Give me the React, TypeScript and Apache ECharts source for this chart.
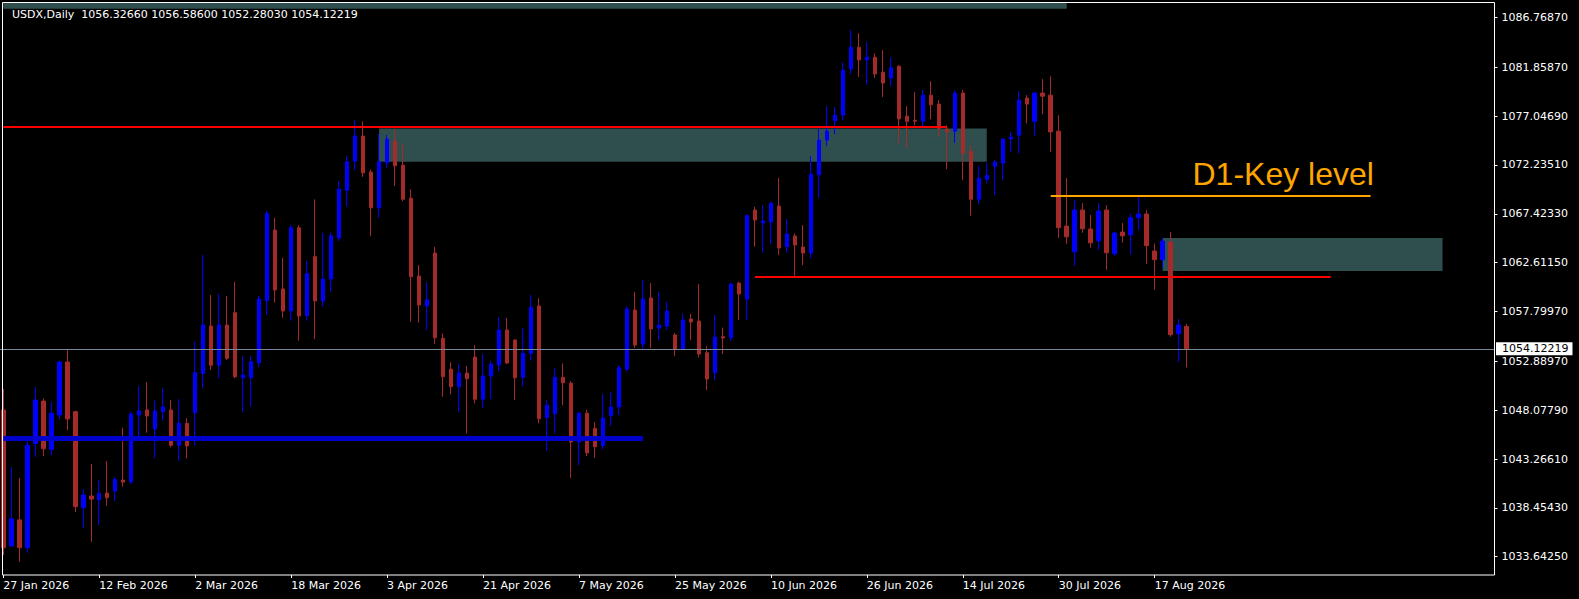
import React, { useEffect, useRef } from "react";
import * as echarts from "echarts";

// ---- data ----
const START_DATE = "2026-01-27";
const TOTAL_SLOTS = 187; // visible bar slots incl. empty right shift
const LAST_BAR_INDEX = 148;
const LABEL_EVERY = 12;
const MONTHS = ["Jan", "Feb", "Mar", "Apr", "May", "Jun", "Jul", "Aug", "Sep", "Oct", "Nov", "Dec"];

// [open, close, low, high]
const candles: number[][] = [
  [1048.10, 1034.53, 1033.81, 1050.16],
  [1034.69, 1037.37, 1034.63, 1042.50],
  [1037.27, 1034.53, 1033.14, 1041.41],
  [1034.53, 1044.63, 1034.03, 1045.02],
  [1044.79, 1049.07, 1043.47, 1050.36],
  [1048.97, 1044.27, 1043.54, 1049.23],
  [1044.21, 1047.77, 1043.64, 1048.90],
  [1047.60, 1052.82, 1047.18, 1052.95],
  [1052.82, 1047.21, 1046.12, 1054.10],
  [1047.93, 1038.57, 1038.04, 1048.03],
  [1038.47, 1039.72, 1036.48, 1040.32],
  [1039.62, 1039.32, 1035.12, 1042.77],
  [1039.26, 1039.89, 1036.75, 1041.19],
  [1039.92, 1039.45, 1038.67, 1043.07],
  [1040.12, 1041.26, 1039.12, 1041.52],
  [1041.19, 1040.99, 1040.53, 1046.35],
  [1041.02, 1047.70, 1040.79, 1047.93],
  [1047.60, 1048.00, 1045.52, 1050.46],
  [1048.10, 1047.50, 1045.85, 1050.85],
  [1046.22, 1048.00, 1043.37, 1049.02],
  [1047.93, 1048.40, 1047.04, 1050.23],
  [1048.10, 1044.63, 1044.41, 1049.07],
  [1044.63, 1046.78, 1043.09, 1049.16],
  [1046.78, 1044.56, 1043.32, 1047.28],
  [1047.83, 1051.77, 1044.63, 1054.83],
  [1051.70, 1056.47, 1050.22, 1063.36],
  [1056.37, 1052.51, 1052.03, 1059.42],
  [1052.51, 1056.47, 1051.21, 1059.52],
  [1056.47, 1053.18, 1053.01, 1059.32],
  [1057.68, 1051.37, 1051.21, 1060.73],
  [1051.27, 1051.54, 1047.90, 1053.40],
  [1051.27, 1052.85, 1048.42, 1053.40],
  [1052.74, 1059.03, 1052.35, 1059.32],
  [1058.87, 1067.46, 1057.46, 1067.72],
  [1065.82, 1059.92, 1058.67, 1067.03],
  [1060.02, 1057.85, 1057.19, 1063.10],
  [1057.85, 1066.04, 1056.89, 1066.31],
  [1066.04, 1057.35, 1054.91, 1066.31],
  [1057.39, 1061.52, 1056.89, 1062.80],
  [1063.20, 1058.84, 1055.08, 1068.84],
  [1058.84, 1061.00, 1058.27, 1065.55],
  [1061.00, 1065.25, 1059.75, 1065.55],
  [1065.05, 1069.85, 1064.75, 1070.66],
  [1069.75, 1072.54, 1068.11, 1073.10],
  [1072.61, 1075.08, 1071.71, 1076.64],
  [1075.08, 1071.46, 1071.06, 1076.54],
  [1071.53, 1068.01, 1065.22, 1071.79],
  [1068.01, 1072.54, 1067.03, 1075.28],
  [1072.44, 1074.78, 1071.98, 1075.18],
  [1074.58, 1072.15, 1070.15, 1075.74],
  [1072.21, 1068.86, 1068.67, 1074.25],
  [1068.96, 1061.22, 1056.79, 1069.85],
  [1061.29, 1058.44, 1056.69, 1062.37],
  [1058.34, 1058.94, 1055.97, 1060.67],
  [1063.56, 1055.21, 1054.59, 1064.16],
  [1055.15, 1051.37, 1049.39, 1055.65],
  [1052.12, 1050.39, 1049.63, 1052.79],
  [1050.39, 1051.74, 1047.93, 1052.62],
  [1051.74, 1051.17, 1045.79, 1052.45],
  [1053.31, 1049.16, 1048.74, 1054.49],
  [1049.16, 1051.44, 1048.31, 1053.60],
  [1051.44, 1052.62, 1049.16, 1052.92],
  [1052.52, 1055.98, 1051.92, 1057.26],
  [1055.98, 1052.72, 1052.62, 1057.16],
  [1054.98, 1051.27, 1049.06, 1055.05],
  [1051.31, 1053.67, 1050.39, 1056.14],
  [1053.67, 1058.21, 1052.95, 1059.42],
  [1058.34, 1047.24, 1046.78, 1059.09],
  [1047.34, 1048.55, 1044.07, 1049.07],
  [1047.74, 1051.31, 1045.79, 1052.19],
  [1051.31, 1050.77, 1048.58, 1052.69],
  [1050.74, 1044.95, 1041.39, 1050.94],
  [1044.95, 1047.77, 1042.66, 1047.93],
  [1047.77, 1043.87, 1043.54, 1048.10],
  [1046.28, 1044.47, 1043.37, 1046.88],
  [1044.57, 1047.28, 1044.24, 1049.66],
  [1047.54, 1048.39, 1046.54, 1049.83],
  [1048.39, 1052.25, 1047.60, 1052.49],
  [1052.12, 1058.04, 1051.87, 1058.34],
  [1057.94, 1054.49, 1054.22, 1059.72],
  [1054.59, 1059.03, 1054.09, 1060.89],
  [1059.13, 1056.07, 1054.19, 1060.60],
  [1056.16, 1056.46, 1054.98, 1059.72],
  [1056.36, 1057.84, 1055.97, 1058.74],
  [1055.48, 1054.09, 1053.40, 1055.68],
  [1054.06, 1056.96, 1053.99, 1057.56],
  [1057.06, 1056.76, 1054.98, 1057.56],
  [1056.86, 1053.60, 1053.27, 1060.50],
  [1053.73, 1051.14, 1050.06, 1054.39],
  [1051.77, 1055.28, 1051.04, 1057.46],
  [1055.31, 1055.18, 1053.60, 1056.21],
  [1055.21, 1060.50, 1054.88, 1060.63],
  [1060.60, 1059.52, 1056.96, 1060.73],
  [1059.03, 1067.23, 1056.96, 1067.40],
  [1067.79, 1066.81, 1064.18, 1068.12],
  [1066.51, 1066.71, 1063.58, 1068.28],
  [1066.64, 1068.45, 1064.45, 1068.61],
  [1068.18, 1064.05, 1063.36, 1070.96],
  [1064.18, 1065.43, 1063.58, 1066.91],
  [1065.23, 1064.35, 1061.32, 1065.50],
  [1064.15, 1063.56, 1062.37, 1066.31],
  [1063.56, 1071.32, 1063.03, 1073.10],
  [1071.26, 1074.68, 1068.99, 1075.77],
  [1074.68, 1075.57, 1074.12, 1078.02],
  [1076.57, 1077.14, 1075.27, 1077.95],
  [1077.14, 1081.57, 1076.64, 1082.33],
  [1081.70, 1083.83, 1081.17, 1085.51],
  [1083.83, 1082.58, 1080.90, 1085.21],
  [1082.58, 1082.85, 1080.15, 1084.36],
  [1082.85, 1081.20, 1080.80, 1083.24],
  [1081.37, 1080.30, 1078.93, 1083.54],
  [1080.80, 1081.80, 1080.02, 1082.85],
  [1081.96, 1076.77, 1074.36, 1082.06],
  [1077.04, 1076.54, 1073.92, 1078.02],
  [1076.64, 1076.54, 1076.14, 1079.41],
  [1076.54, 1079.11, 1076.04, 1079.61],
  [1079.11, 1078.16, 1076.74, 1080.49],
  [1078.23, 1075.83, 1075.00, 1078.62],
  [1075.76, 1075.49, 1071.82, 1076.14],
  [1075.56, 1079.31, 1074.41, 1079.61],
  [1079.31, 1073.38, 1070.73, 1079.61],
  [1073.58, 1068.86, 1067.23, 1074.18],
  [1068.86, 1070.93, 1068.37, 1072.11],
  [1070.83, 1071.20, 1070.44, 1072.41],
  [1072.11, 1072.51, 1069.25, 1072.71],
  [1072.41, 1074.78, 1070.73, 1074.88],
  [1074.78, 1074.98, 1073.49, 1075.47],
  [1075.17, 1078.62, 1073.39, 1079.51],
  [1078.82, 1078.23, 1076.34, 1079.11],
  [1076.54, 1079.31, 1075.10, 1079.41],
  [1079.31, 1079.01, 1077.22, 1080.69],
  [1079.11, 1075.49, 1073.52, 1080.97],
  [1075.56, 1066.05, 1065.05, 1077.14],
  [1066.21, 1065.15, 1064.47, 1070.93],
  [1063.68, 1067.79, 1062.30, 1068.78],
  [1067.79, 1065.95, 1065.55, 1068.48],
  [1065.92, 1064.56, 1064.08, 1067.30],
  [1064.76, 1067.69, 1063.88, 1068.48],
  [1067.79, 1063.58, 1061.92, 1068.28],
  [1063.48, 1065.52, 1063.28, 1065.65],
  [1065.62, 1065.25, 1064.56, 1066.51],
  [1065.35, 1067.03, 1063.39, 1067.43],
  [1067.03, 1067.40, 1065.85, 1069.03],
  [1067.40, 1064.28, 1062.50, 1067.79],
  [1063.75, 1062.90, 1059.95, 1064.48],
  [1062.90, 1064.73, 1062.10, 1065.03],
  [1064.63, 1055.51, 1055.31, 1065.62],
  [1055.61, 1056.46, 1052.85, 1057.06],
  [1056.3266, 1054.12219, 1052.2803, 1056.586],
];

const yTickValues = [
  1086.7687, 1081.8587, 1077.0469, 1072.2351, 1067.4233, 1062.6115,
  1057.7997, 1052.8897, 1048.0779, 1043.2661, 1038.4543, 1033.6425,
];
const Y_MIN = 1031.84;
const Y_MAX = 1088.237;

const lastPrice = 1054.12219;
const titleText = "USDX,Daily  1056.32660 1056.58600 1052.28030 1054.12219";
const keyLevelText = "D1-Key level";

// zones: [fromIndex, toIndex, topPrice, bottomPrice]
const supplyZone = [47, 123, 1075.83, 1072.54];
const demandZone = [145, 180, 1065.03, 1061.78];
const topZone = [0, 133, Y_MAX, 1087.61];

// levels: [fromIndex, toIndex, price]
const upperRedLevel = [0, 118, 1075.96];
const lowerRedLevel = [94, 166, 1061.21];
const blueSupportLevel = [0, 80, 1045.30];
const keyLevel = [131, 171, 1069.18];

function buildDates(start: string, n: number): string[] {
  const out: string[] = [];
  const d = new Date(start + "T00:00:00Z");
  while (out.length < n) {
    const wd = d.getUTCDay();
    if (wd !== 0 && wd !== 6) {
      out.push(`${d.getUTCDate()} ${MONTHS[d.getUTCMonth()]} ${d.getUTCFullYear()}`);
    }
    d.setUTCDate(d.getUTCDate() + 1);
  }
  return out;
}

const FONT = "DejaVu Sans";

export default function App() {
  const ref = useRef<HTMLDivElement | null>(null);

  useEffect(() => {
    document.body.style.margin = "0";
    document.body.style.background = "#000";
    if (!ref.current) return;
    const chart = echarts.init(ref.current, undefined, { renderer: "svg" });
    const categories = buildDates(START_DATE, TOTAL_SLOTS);

    const showAt = (i: number) => i % LABEL_EVERY === 0 && i <= LAST_BAR_INDEX;

    const zone = (z: number[], color: string) => [
      { coord: [z[0], z[2]], itemStyle: { color, opacity: 1 } },
      { coord: [z[1], z[3]] },
    ];
    const seg = (l: number[], color: string, width: number) => [
      { coord: [l[0], l[2]], lineStyle: { color, width, type: "solid", opacity: 1 } },
      { coord: [l[1], l[2]] },
    ];

    const option: any = {
      animation: false,
      backgroundColor: "#000000",
      title: {
        text: titleText,
        left: 7,
        top: 4,
        textStyle: { color: "#ffffff", fontFamily: FONT, fontSize: 11, fontWeight: "normal" },
      },
      grid: {
        left: -0.7,
        right: 84.5,
        top: 2.5,
        bottom: 24,
        containLabel: false,
        outerBoundsMode: "none",
      },
      xAxis: {
        type: "category",
        data: categories,
        boundaryGap: true,
        axisLine: { show: false },
        axisTick: {
          show: true,
          alignWithLabel: true,
          interval: (i: number) => showAt(i),
          length: 3,
          lineStyle: { color: "#ffffff", width: 1 },
        },
        axisLabel: {
          show: true,
          interval: (i: number) => showAt(i),
          align: "left",
          margin: 5,
          color: "#ffffff",
          fontFamily: FONT,
          fontSize: 11,
          formatter: (v: string) => {
            const i = categories.indexOf(v);
            return i >= 0 && i <= LAST_BAR_INDEX ? v : "";
          },
        },
        splitLine: { show: false },
      },
      yAxis: {
        type: "value",
        position: "right",
        scale: true,
        min: Y_MIN,
        max: Y_MAX,
        axisLine: { show: false },
        splitLine: { show: false },
        axisTick: {
          show: true,
          length: 3,
          customValues: yTickValues,
          lineStyle: { color: "#ffffff", width: 1 },
        },
        axisLabel: {
          show: true,
          customValues: yTickValues,
          margin: 7,
          color: "#ffffff",
          fontFamily: FONT,
          fontSize: 11,
          formatter: (v: number) => v.toFixed(5),
        },
      },
      series: [
        {
          type: "line",
          data: [],
          z: 1,
          silent: true,
          markArea: {
            silent: true,
            data: [
              zone(topZone, "#2F4F4F"),
              zone(supplyZone, "#2F4F4F"),
              zone(demandZone, "#2F4F4F"),
            ],
          },
        },
        {
          type: "candlestick",
          data: candles,
          z: 2,
          barWidth: 4,
          silent: true,
          itemStyle: {
            color: "#0000FF",
            color0: "#A52A2A",
            borderColor: "#0000FF",
            borderColor0: "#A52A2A",
            borderWidth: 1,
          },
        },
        {
          type: "line",
          data: [],
          z: 3,
          silent: true,
          markLine: {
            silent: true,
            symbol: ["none", "none"],
            label: { show: false },
            data: [
              seg(upperRedLevel, "#FF0000", 2),
              seg(lowerRedLevel, "#FF0000", 2),
              seg(blueSupportLevel, "#0000CD", 5),
              seg(keyLevel, "#FFA500", 2),
              {
                yAxis: lastPrice,
                lineStyle: { color: "#778899", width: 1, type: "solid", opacity: 1 },
                label: {
                  show: true,
                  position: "end",
                  distance: 1.5,
                  formatter: () => lastPrice.toFixed(5),
                  color: "#000000",
                  backgroundColor: "#ffffff",
                  padding: [1, 4, 0, 6],
                  lineHeight: 12,
                  fontFamily: FONT,
                  fontSize: 11,
                },
              },
            ],
          },
        },
      ],
      graphic: [
        {
          type: "rect",
          silent: true,
          z: 100,
          shape: { x: 2.5, y: 2.5, width: 1492, height: 572.5 },
          style: { fill: "none", stroke: "#ffffff", lineWidth: 1 },
        },
        {
          type: "text",
          silent: true,
          z: 100,
          x: 1192.5,
          y: 173.5,
          style: {
            text: keyLevelText,
            fill: "#FFA500",
            font: "32px 'Liberation Sans'",
            verticalAlign: "middle",
            align: "left",
          },
        },
      ],
    };

    chart.setOption(option);
    return () => chart.dispose();
  }, []);

  return (
    <div
      ref={ref}
      style={{ position: "fixed", left: 0, top: 0, width: 1579, height: 599, background: "#000" }}
    />
  );
}
